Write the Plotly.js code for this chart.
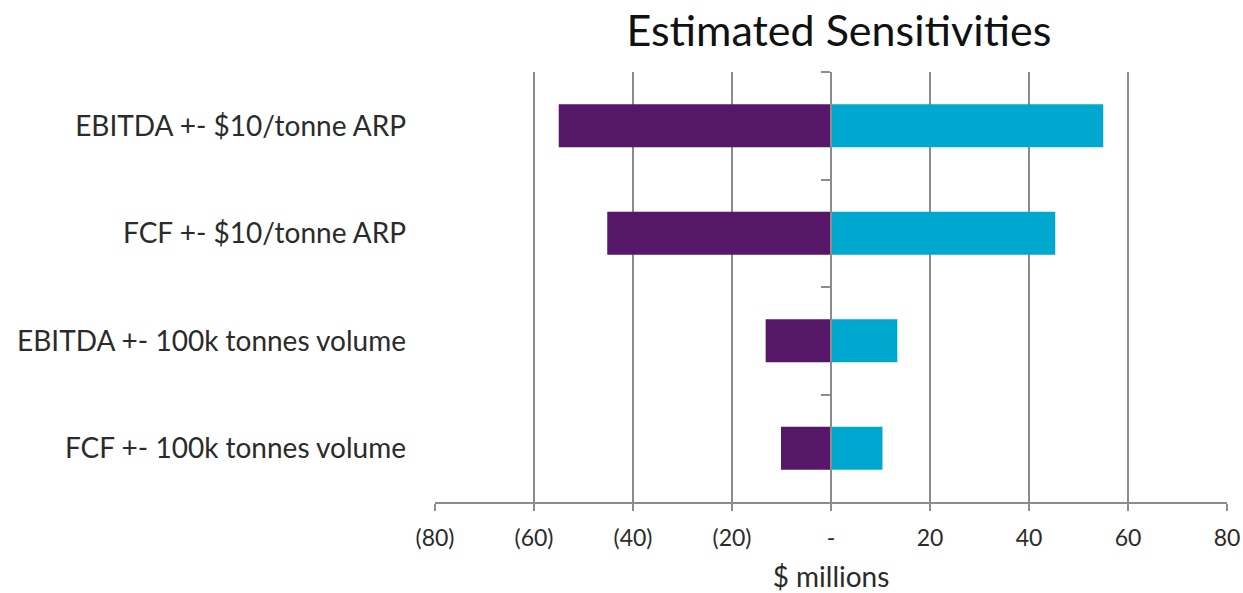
<!DOCTYPE html>
<html>
<head>
<meta charset="utf-8">
<script src="https://cdn.plot.ly/plotly-3.0.1.min.js"></script>
<style>
  html, body { margin: 0; padding: 0; background: #fff; }
  #chart { width: 1243px; height: 593px; }
</style>
</head>
<body>
<div id="chart"></div>
<script>
// Sensitivity drivers, listed top to bottom
const categories = [
  "EBITDA +- $10/tonne ARP",
  "FCF +- $10/tonne ARP",
  "EBITDA +- 100k tonnes volume",
  "FCF +- 100k tonnes volume"
];
// Downside and upside impact, $ millions
const downside = [-55, -45.2, -13.2, -10.1];
const upside = [55, 45.3, 13.4, 10.4];
// Axis ticks
const xTickVals = [-80, -60, -40, -20, 0, 20, 40, 60, 80];
const xTickText = ["(80)", "(60)", "(40)", "(20)", "-", "20", "40", "60", "80"];

const PURPLE = "#561768";
const CYAN = "#00A8D0";
const GRID = "#8c8c8c";
const FONT = "Lato, 'Open Sans', sans-serif";
const TEXT = "#2b2b2b";

const data = [
  { type: "bar", orientation: "h", y: categories, x: downside,
    marker: { color: PURPLE }, hoverinfo: "x+y", showlegend: false },
  { type: "bar", orientation: "h", y: categories, x: upside,
    marker: { color: CYAN }, hoverinfo: "x+y", showlegend: false },
  // carrier for the category axis drawn along zero
  { type: "scatter", mode: "markers", y: categories, x: [0, 0, 0, 0],
    yaxis: "y2", marker: { opacity: 0 }, hoverinfo: "skip", showlegend: false }
];

const layout = {
  width: 1243, height: 593,
  paper_bgcolor: "#ffffff", plot_bgcolor: "#ffffff",
  margin: { l: 435, r: 16, t: 72, b: 91 },
  barmode: "relative",
  bargap: 0.6,
  font: { family: FONT, color: TEXT },
  title: {
    text: "Estimated Sensitivities",
    font: { family: FONT, size: 43, color: "#111" },
    x: 0.51, xref: "paper", xanchor: "center",
    y: 0.948, yanchor: "middle"
  },
  xaxis: {
    range: [-80, 80],
    tickvals: xTickVals, ticktext: xTickText,
    showgrid: true, gridcolor: GRID, gridwidth: 2,
    zeroline: true, zerolinecolor: GRID, zerolinewidth: 2,
    showline: true, linecolor: GRID, linewidth: 2,
    ticks: "outside", ticklen: 7, tickwidth: 2, tickcolor: GRID,
    ticklabelstandoff: 7,
    tickfont: { family: FONT, size: 23, color: TEXT },
    title: { text: "$ millions", font: { family: FONT, size: 28, color: TEXT }, standoff: 18 },
    fixedrange: true
  },
  yaxis: {
    type: "category",
    categoryorder: "array", categoryarray: categories,
    autorange: "reversed",
    showgrid: false, zeroline: false, showline: false,
    ticks: "", ticklabelstandoff: 28,
    tickfont: { family: FONT, size: 28, color: TEXT },
    fixedrange: true
  },
  yaxis2: {
    type: "category",
    overlaying: "y", matches: "y",
    anchor: "free", position: 0.5, side: "left",
    showgrid: false, zeroline: false,
    showline: true, linecolor: GRID, linewidth: 2,
    ticks: "outside", tickson: "boundaries", ticklen: 9, tickwidth: 2, tickcolor: GRID,
    showticklabels: false,
    fixedrange: true
  }
};

Plotly.newPlot("chart", data, layout, { displayModeBar: false, staticPlot: true });
</script>
</body>
</html>
